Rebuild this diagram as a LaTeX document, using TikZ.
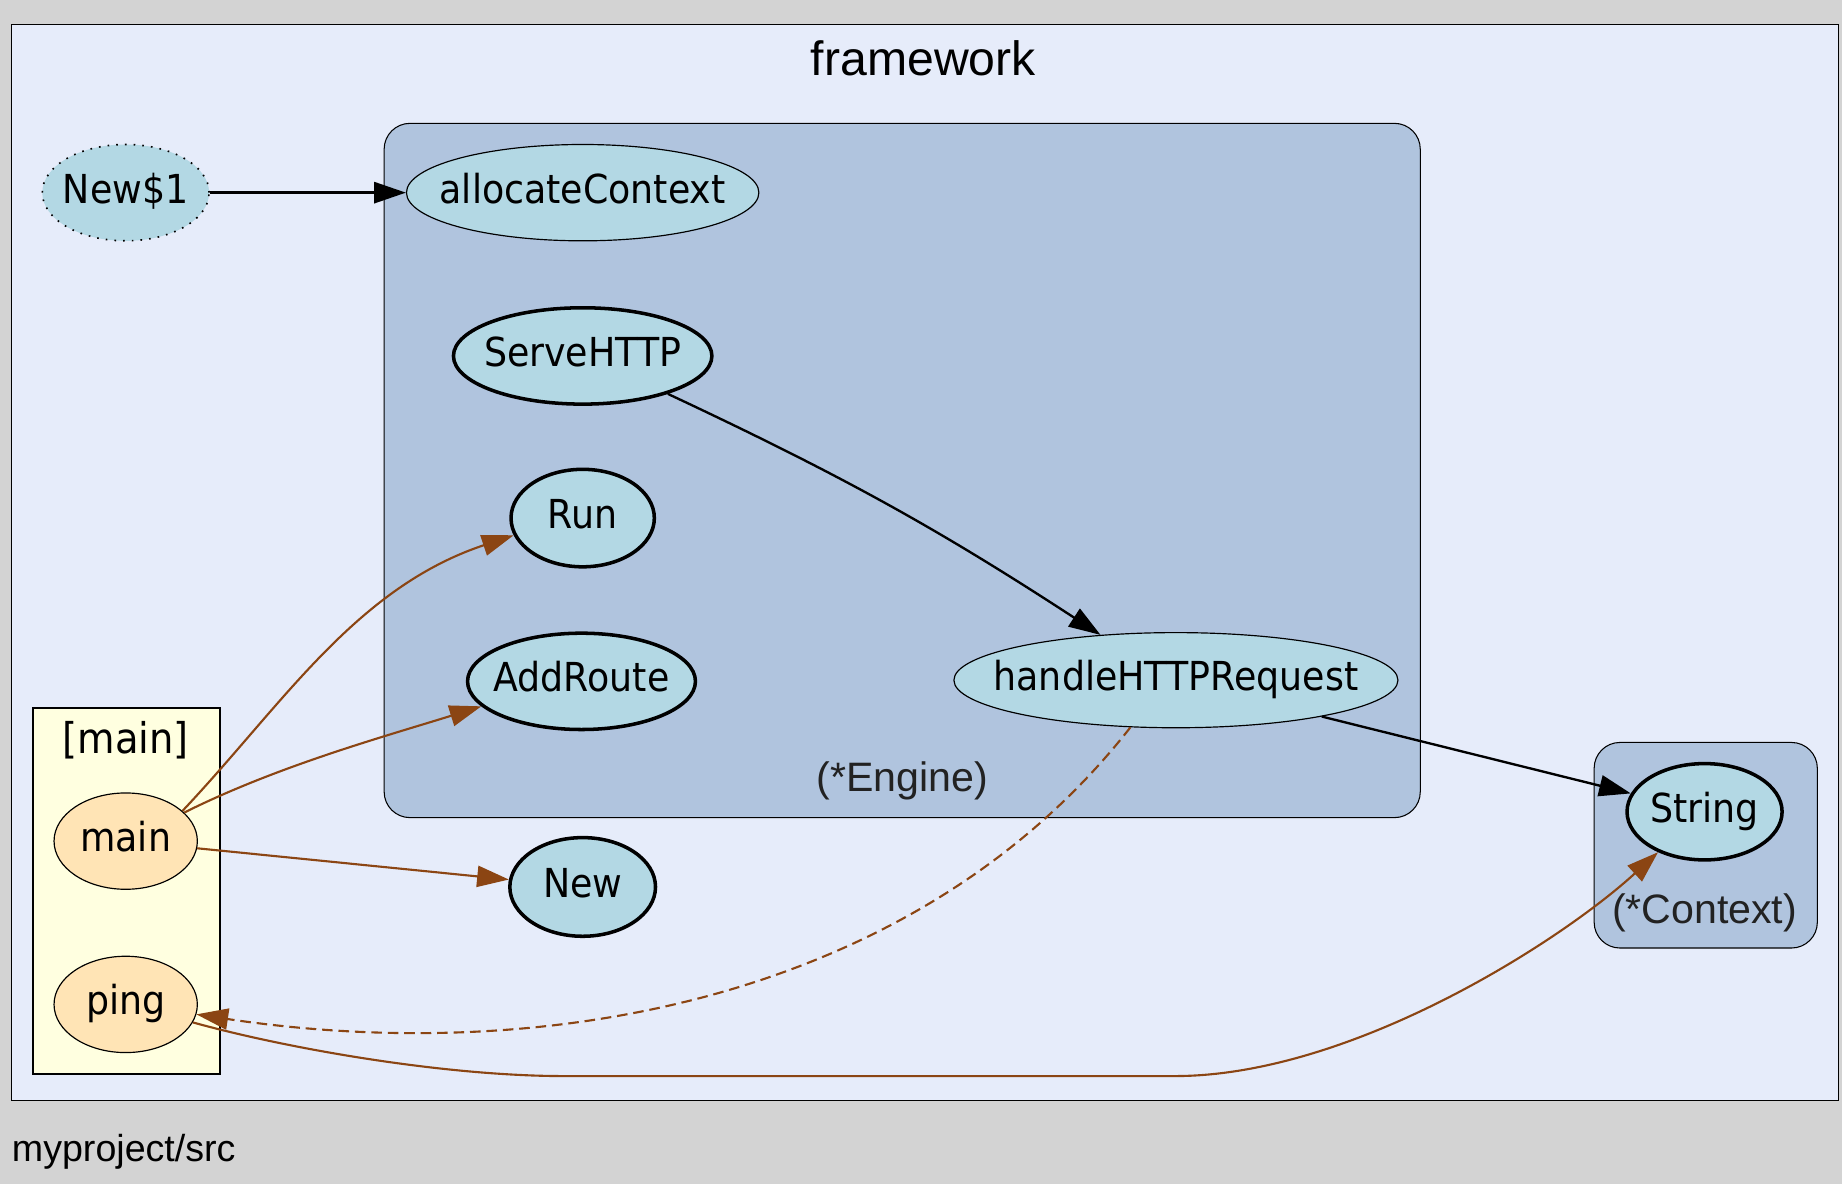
\documentclass[tikz,border=0pt]{standalone}
\usepackage{fontspec}
\setmainfont{DejaVu Sans}[FakeStretch=0.91]
\newfontfamily\helv{Liberation Sans}
\usetikzlibrary{arrows.meta,shapes.geometric}
\definecolor{pagegray}{HTML}{D3D3D3}
\definecolor{pkgfill}{HTML}{E6ECFA}
\definecolor{typefill}{HTML}{B0C4DE}
\definecolor{funcblue}{HTML}{B3D8E4}
\definecolor{mainyellow}{HTML}{FFFFE0}
\definecolor{mainorange}{HTML}{FFE4B5}
\definecolor{callbrown}{HTML}{8B4513}
\definecolor{labelgray}{HTML}{222222}
\newcommand{\fn}[1]{\makebox[0pt]{#1}}

\begin{document}
\begin{tikzpicture}[x=1pt,y=1pt,>={Triangle[length=27pt,width=18pt]},
every node/.style={inner sep=0pt},
func/.style={ellipse,draw=black,fill=funcblue,line width=1pt,minimum height=82pt,
  font=\fontsize{34}{40}\selectfont,text height=24.5pt,text depth=6.5pt},
bold/.style={line width=3pt},
caller/.style={func,fill=mainorange},
dotfn/.style={dash pattern=on 1.4pt off 6pt,line width=1.4pt},
call/.style={->,draw=callbrown,line width=1.8pt},
dcall/.style={call,dash pattern=on 9pt off 5pt},
mcall/.style={->,draw=black,line width=2pt},
cluster/.style={draw=black,line width=0.9pt},
clabel/.style={anchor=base,font=\helv\fontsize{35}{40}\selectfont,text=labelgray}]

\useasboundingbox[fill=pagegray] (0,0) rectangle (1568,-1008);

% clusters
\draw[cluster,fill=pkgfill] (10,-21) rectangle (1565,-937);
\node[anchor=base,font=\helv\fontsize{41}{46}\selectfont] (fwlabel) at (786,-64) {framework};
\node[anchor=base west,font=\helv\fontsize{32}{38}\selectfont] (srclabel) at (10,-989) {myproject/src};
\draw[cluster,fill=typefill,rounded corners=22pt] (327,-105) rectangle (1209,-696);
\node[clabel] (enginelbl) at (768,-674) {(*Engine)};
\draw[cluster,fill=typefill,rounded corners=22pt] (1357,-632) rectangle (1547,-807);
\node[clabel] (contextlbl) at (1451,-786) {(*Context)};
\draw[cluster,fill=mainyellow,line width=1.6pt] (28,-603) rectangle (187,-914);
\node[anchor=base,font=\fontsize{36}{42}\selectfont] (mainlbl) at (107,-641) {[main]};

% functions
\node[func,dotfn,draw=black,minimum width=142pt] (new1) at (107,-164) {\fn{New\$1}};
\node[func,minimum width=300pt] (alloc) at (496,-164) {\fn{allocateContext}};
\node[func,bold,minimum width=220pt] (serve) at (496,-303) {\fn{ServeHTTP}};
\node[func,bold,minimum width=122pt,minimum height=83pt] (run) at (496,-441) {\fn{Run}};
\node[func,bold,minimum width=194pt] (addroute) at (495,-580) {\fn{AddRoute}};
\node[func,minimum width=378pt,minimum height=81pt] (handle) at (1001,-579) {\fn{handleHTTPRequest}};
\node[func,bold,minimum width=124pt,minimum height=84pt] (newfn) at (496,-755) {\fn{New}};
\node[func,bold,minimum width=132pt] (string) at (1451,-691) {\fn{String}};
\node[caller,minimum width=122pt] (main) at (107,-716) {\fn{main}};
\node[caller,minimum width=122pt] (ping) at (107,-855) {\fn{ping}};

\coordinate (low1) at (480,-916);
\coordinate (low2) at (1000,-916);

% calls
\draw[mcall] (new1) -- (alloc);
\draw[mcall] (serve.-24) to[bend left=4] (handle.149);
\draw[mcall] (handle.-14) -- (string);
\draw[call] (main.28) .. controls +(85,90) and +(-135,-45) .. (run.194);
\draw[call] (main.26) .. controls +(80,40) and +(-80,-25) .. (addroute.194);
\draw[call] (main) -- (newfn);
\draw[dcall] (handle.226) .. controls +(-180,-230) and +(300,-45) .. (ping.-8);
\draw[call] (ping.-15) .. controls +(83,-23) and +(-100,0) .. (low1) -- (low2)
  .. controls +(150,0) and +(-83,-76) .. (string.221);

\end{tikzpicture}
\end{document}
